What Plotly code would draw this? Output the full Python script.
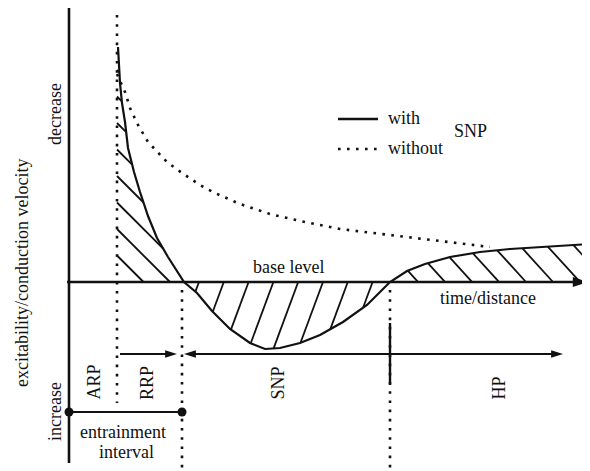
import numpy as np
import plotly.graph_objects as go

# ---------------- data (pixel-like units) ----------------
# "with SNP" excitability curve
with_x = [118, 119, 120, 122, 125, 128, 134, 140, 148, 157, 168, 184, 197, 212, 230, 250,
          265, 280, 300, 320, 343, 367, 390, 407, 425, 450, 480, 510, 540, 570, 590]
with_y = [47, 65, 83, 103, 122, 148, 172, 192, 216, 238, 257, 282, 293, 311, 329, 343,
          349, 348, 343, 335, 322, 305, 282, 271, 264, 257, 252, 249, 247, 245, 244]
# "without SNP" curve
without_x = [117, 121, 125, 130, 138, 148, 158, 167, 182, 200, 215, 240, 270, 300, 340,
             380, 413, 450, 490]
without_y = [74, 84, 92, 108, 125, 142, 153, 162, 173, 185, 193, 204, 214, 221, 229,
             234, 238, 242, 247]

base_level = 282          # base level of excitability
arp_end = 117             # end of absolute refractory period
rrp_end = 182             # end of relative refractory period (= entrainment interval)
snp_end = 390             # end of supernormal period
x_end = 590

period_labels = ["ARP", "RRP", "SNP", "HP"]
period_label_x = [93, 147, 277, 498]

# ---------------- helpers ----------------
FONT = "Liberation Serif"
INK = "#111111"

def curve(x):
    return np.interp(x, with_x, with_y)

# crossings of the curve with the base level
xs = np.linspace(with_x[0], with_x[-1], 20001)
d = curve(xs) - base_level
idx = np.where(np.diff(np.sign(d)) != 0)[0]
cross = [xs[i] for i in idx]
c1 = cross[0]
c2 = cross[-1]

def runs(px, py, mask):
    out_x, out_y = [], []
    m = np.asarray(mask)
    if not m.any():
        return out_x, out_y
    edges = np.diff(np.concatenate([[0], m.astype(int), [0]]))
    starts = np.where(edges == 1)[0]
    ends = np.where(edges == -1)[0] - 1
    for s, e in zip(starts, ends):
        if e - s < 1:
            continue
        out_x += [px[s], px[e], None]
        out_y += [py[s], py[e], None]
    return out_x, out_y

hx, hy = [], []
# family A (between ARP line and curve, above base): down-right lines
sA, dA = 1.0, 26.5
for k in range(1, 14):
    x0 = arp_end + dA * k
    px = np.linspace(arp_end, c1, 4000)
    py = base_level - sA * (x0 - px)
    m = (py >= curve(px)) & (py <= base_level)
    a, b = runs(px, py, m)
    hx += a; hy += b
# family B (below base, SNP): steep up-right lines
sB, dB = 0.37, 24.8
for k in range(0, 9):
    x0 = c1 + 15 + dB * k
    py = np.linspace(base_level, max(with_y), 4000)
    px = x0 - sB * (py - base_level)
    m = (px >= c1) & (px <= c2) & (py <= curve(px))
    a, b = runs(px, py, m)
    hx += a; hy += b
# family C (above base, HP): down-right lines
sC, dC = 1.1, 27
for k in range(0, 9):
    x0 = c2 + 28 + dC * k
    px = np.linspace(c2, x_end, 4000)
    py = base_level - sC * (x0 - px)
    m = (py >= curve(px)) & (py <= base_level)
    a, b = runs(px, py, m)
    hx += a; hy += b

fig = go.Figure()

# hatch
fig.add_trace(go.Scatter(x=hx, y=hy, mode="lines", line=dict(color=INK, width=1.8),
                         hoverinfo="skip"))
# curves
fig.add_trace(go.Scatter(x=with_x, y=with_y, mode="lines", line=dict(color=INK, width=2.2),
                         hoverinfo="skip"))
fig.add_trace(go.Scatter(x=without_x, y=without_y, mode="lines",
                         line=dict(color=INK, width=2.6, dash="2.6px,6.4px"),
                         hoverinfo="skip"))

DOT = "2.6px,6.6px"
shapes = [
    # vertical (excitability) axis
    dict(type="line", x0=69, x1=69, y0=8, y1=463, line=dict(color=INK, width=2.6)),
    # base level / time axis
    dict(type="line", x0=67, x1=580, y0=base_level, y1=base_level, line=dict(color=INK, width=2.6)),
    # dotted period boundaries
    dict(type="line", x0=arp_end, x1=arp_end, y0=15, y1=403, line=dict(color=INK, width=2.6, dash=DOT)),
    dict(type="line", x0=rrp_end, x1=rrp_end, y0=290, y1=471, line=dict(color=INK, width=2.6, dash=DOT)),
    dict(type="line", x0=snp_end, x1=snp_end, y0=290, y1=471, line=dict(color=INK, width=2.6, dash=DOT)),
    # solid tick at end of SNP
    dict(type="line", x0=snp_end, x1=snp_end, y0=323, y1=385, line=dict(color=INK, width=2.4)),
    # RRP arrow
    dict(type="line", x0=arp_end + 3, x1=rrp_end - 10, y0=354, y1=354, line=dict(color=INK, width=2.2)),
    # SNP / HP arrow
    dict(type="line", x0=rrp_end + 8, x1=555, y0=354, y1=354, line=dict(color=INK, width=2.2)),
    # entrainment interval
    dict(type="line", x0=69, x1=rrp_end, y0=412, y1=412, line=dict(color=INK, width=2.2)),
    # legend samples
    dict(type="line", x0=338, x1=378, y0=119, y1=119, line=dict(color=INK, width=2.4)),
    dict(type="line", x0=338, x1=378, y0=149, y1=149, line=dict(color=INK, width=2.6, dash="2.6px,6.4px")),
]

# arrowheads
fig.add_trace(go.Scatter(x=[588], y=[base_level], mode="markers",
                         marker=dict(symbol="arrow", angle=90, size=16, color=INK, line=dict(width=0)),
                         hoverinfo="skip"))
fig.add_trace(go.Scatter(x=[rrp_end - 5, 563], y=[354, 354], mode="markers",
                         marker=dict(symbol="arrow", angle=90, size=12.5, color=INK, line=dict(width=0)),
                         hoverinfo="skip"))
fig.add_trace(go.Scatter(x=[rrp_end + 2], y=[354], mode="markers",
                         marker=dict(symbol="arrow", angle=-90, size=12.5, color=INK, line=dict(width=0)),
                         hoverinfo="skip"))
# entrainment dots
fig.add_trace(go.Scatter(x=[69, rrp_end], y=[412, 412], mode="markers",
                         marker=dict(symbol="circle", size=9, color=INK, line=dict(width=0)),
                         hoverinfo="skip"))

def ann(text, x, y, angle=0, xanchor="center", yanchor="middle", size=18):
    return dict(text=text, x=x, y=y, xref="x", yref="y", showarrow=False, textangle=angle,
                xanchor=xanchor, yanchor=yanchor, font=dict(family=FONT, size=size, color=INK))

annotations = [
    ann("excitability/conduction velocity", 22, 273, angle=-90),
    ann("decrease", 55, 114, angle=-90),
    ann("increase", 55, 412, angle=-90),
    ann("base level", 288, 267),
    ann("time/distance", 488, 298),
    ann("entrainment", 123, 432),
    ann("interval", 126, 452),
    ann("with", 386, 118, xanchor="left"),
    ann("without", 386, 148, xanchor="left"),
    ann("SNP", 470, 131),
]
for lab, lx in zip(period_labels, period_label_x):
    annotations.append(ann(lab, lx, 402, angle=-90, yanchor="bottom"))

# the page body has an 8px margin, so the plot starts at page pixel (8, 8)
fig.update_layout(
    width=582, height=463, margin=dict(l=0, r=0, t=0, b=0),
    paper_bgcolor="white", plot_bgcolor="white", showlegend=False,
    xaxis=dict(range=[8, 590], visible=False, fixedrange=True),
    yaxis=dict(range=[471, 8], visible=False, fixedrange=True),
    shapes=shapes, annotations=annotations,
)

fig.write_html("out.html")
